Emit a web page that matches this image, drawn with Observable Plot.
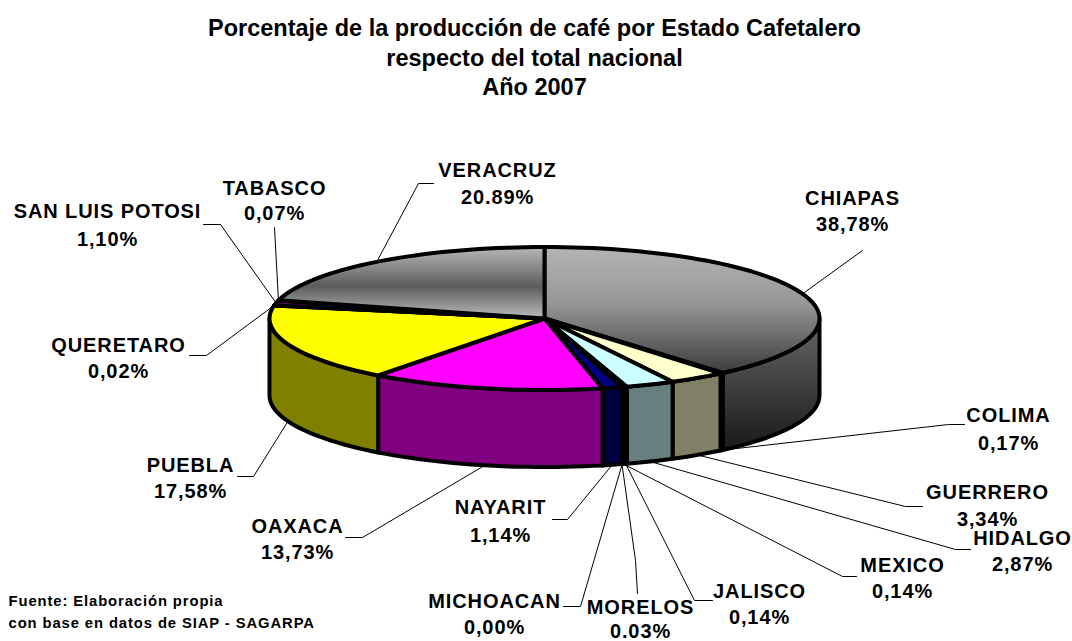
<!DOCTYPE html>
<html><head><meta charset="utf-8">
<script src="https://cdn.jsdelivr.net/npm/d3@7"></script>
<script src="https://cdn.jsdelivr.net/npm/@observablehq/plot@0.6"></script>
<style>
html,body{margin:0;padding:0;background:#fff;overflow:hidden}
#title{height:105px;box-sizing:border-box;padding-top:14px;text-align:center;font:bold 23.5px/29.5px "Liberation Sans",Arial,sans-serif;color:#000}
#title div{position:relative;left:-1.5px}
#chart{width:1072px}
#chart svg{display:block}
</style></head><body>
<div id="title"><div>Porcentaje de la producción de café por Estado Cafetalero</div><div>respecto del total nacional</div><div>Año 2007</div></div>
<div id="chart"></div>
<script>
// Data, in drawing order (clockwise from twelve o'clock)
const states = ["CHIAPAS","COLIMA","GUERRERO","HIDALGO","JALISCO","MEXICO","MICHOACAN","MORELOS","NAYARIT","OAXACA","PUEBLA","QUERETARO","SAN LUIS POTOSI","TABASCO","VERACRUZ"];
const values = [38.78,0.17,3.34,2.87,0.14,0.14,0.00,0.03,1.14,13.73,17.58,0.02,1.10,0.07,20.89];
const valueLabels = ["38,78%","0,17%","3,34%","2,87%","0,14%","0,14%","0,00%","0.03%","1,14%","13,73%","17,58%","0,02%","1,10%","0,07%","20.89%"];
const topColors = ["url(#gChiapasTop)","#ffffff","#ffffcc","#ccffff","#ffffff","#ffffff","#ffffff","#ffffff","#000080","#ff00ff","#ffff00","#ffffff","#800080","#ffffff","url(#gVeracruz)"];
const sideColors = ["url(#gChiapasSide)","#808080","#808066","#668080","#808080","#808080","#808080","#808080","#000040","#800080","#808000","#808080","#400040","#808080","#808080"];

// Layout (pixels of the page)
const W = 1072, H = 641, TOP = 105;
const pie = {cx:544, cy:318, rx:275, ry:71.5, depth:77};
const labelX  = [852,1008,987,1022,759,902,494,640,500,297,190,118,107,274,497];
const labelY1 = [198,415,492,538,591,565,601,607,507,526,465,345,211,188,170];
const labelY2 = [224,443,519,564,617,591,627,631,535,552,491,371,239,213,197];
// Leader bends: [far end of slope, end of the horizontal stub]
const leaderBend = [[862,250],[948,424],[905,506],[955,549],[694,600],[842,576],[580,606],[635,560],[567,519],[362,537],[253,476],[206,355],[220,224],[274,227],[418,183]];
const leaderStub = [[862,250],[964,424],[922,506],[970,549],[712,600],[856,576],[563,606],[637,593],[552,519],[345,537],[237,476],[189,355],[203,224],[274,227],[433,183]];

const total = d3.sum(values);
const cum = d3.cumsum(values);
const ang = p => p / total * 360;
const px = a => pie.cx + pie.rx * Math.sin(a * Math.PI / 180);
const py = (a, dz = 0) => pie.cy - pie.ry * Math.cos(a * Math.PI / 180) + dz;
const arc = (a0, a1) => { const n = Math.max(1, Math.ceil((a1 - a0) / 2)); return d3.range(n + 1).map(i => a0 + (a1 - a0) * i / n); };

const slices = states.map((name, i) => ({name, i, a0: ang(cum[i] - values[i]), a1: ang(cum[i])}));
const lineOpts = {x: "x", y: "y", stroke: "#000", strokeWidth: 4, strokeLinejoin: "round", curve: "linear-closed"};

const sideMarks = slices.filter(s => s.a1 > 90 && s.a0 < 270).map(s => {
  const a0 = Math.max(s.a0, 90), a1 = Math.min(s.a1, 270), as = arc(a0, a1);
  const pts = [...as.map(a => ({x: px(a), y: py(a)})), ...as.slice().reverse().map(a => ({x: px(a), y: py(a, pie.depth)}))];
  return Plot.line(pts, {...lineOpts, fill: sideColors[s.i]});
});
const topMarks = slices.map(s => {
  const pts = [{x: pie.cx, y: pie.cy}, ...arc(s.a0, s.a1).map(a => ({x: px(a), y: py(a)}))];
  return Plot.line(pts, {...lineOpts, fill: topColors[s.i]});
});
const leaders = slices.flatMap(s => {
  const mid = (s.a0 + s.a1) / 2, front = mid > 90 && mid < 270;
  return [
    {k: s.i, x: px(mid), y: py(mid, front ? pie.depth : 0)},
    {k: s.i, x: leaderBend[s.i][0], y: leaderBend[s.i][1]},
    {k: s.i, x: leaderStub[s.i][0], y: leaderStub[s.i][1]}
  ];
});
const labelFont = {fontFamily: '"Liberation Sans",Arial,sans-serif', fontWeight: "bold", fontSize: 20, fill: "#000", textAnchor: "middle", lineAnchor: "middle"};
const credits = ["Fuente: Elaboración propia", "con base en datos de SIAP - SAGARPA"];

const plot = Plot.plot({
  width: W, height: H - TOP, margin: 0,
  x: {domain: [0, W], range: [0, W], axis: null},
  y: {domain: [TOP, H], range: [0, H - TOP], axis: null},
  style: {background: "none", letterSpacing: "0.9px"},
  marks: [
    Plot.line(leaders, {x: "x", y: "y", z: "k", stroke: "#000", strokeWidth: 1}),
    ...sideMarks,
    ...topMarks,
    Plot.text(slices, {...labelFont, x: s => labelX[s.i], y: s => labelY1[s.i], text: "name"}),
    Plot.text(slices, {...labelFont, x: s => labelX[s.i], y: s => labelY2[s.i], text: s => valueLabels[s.i]}),
    Plot.text(credits, {x: () => 8, y: (d, i) => 601 + i * 21.5, text: d => d, fontFamily: labelFont.fontFamily, fontWeight: "bold", fontSize: 14.8, textAnchor: "start", lineAnchor: "middle", fill: "#000"})
  ]
});
const stops = (id, list) => {
  const g = defs.append("linearGradient").attr("id", id).attr("x1", 0).attr("y1", 0).attr("x2", 0).attr("y2", 1);
  list.forEach(([o, c]) => g.append("stop").attr("offset", o).attr("stop-color", c));
};
const defs = d3.select(plot).insert("defs", ":first-child");
stops("gChiapasTop", [[0, "#b4b4b4"], [0.45, "#969696"], [1, "#3c3c3c"]]);
stops("gChiapasSide", [[0, "#666666"], [1, "#1a1a1a"]]);
stops("gVeracruz", [[0, "#b8b8b8"], [0.55, "#5c5c5c"], [1, "#bcbcbc"]]);
document.getElementById("chart").append(plot);
</script>
</body></html>
